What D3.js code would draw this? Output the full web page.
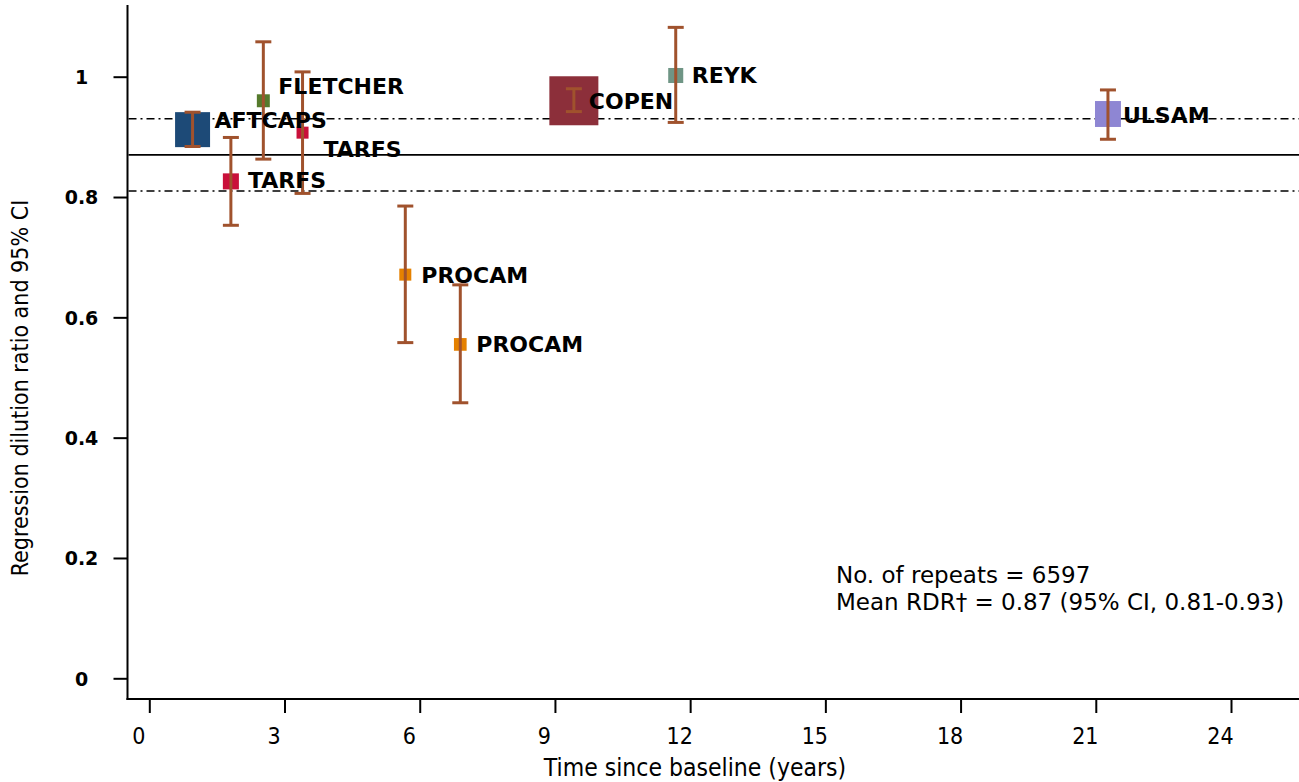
<!DOCTYPE html>
<html>
<head>
<meta charset="utf-8">
<script src="https://cdn.jsdelivr.net/npm/d3@7"></script>
<style>
  html, body { margin: 0; padding: 0; background: #fff; }
  svg { display: block; }
</style>
</head>
<body>
<svg id="chart" width="1299" height="782"></svg>
<script>
// Cohort studies: time since baseline, regression dilution ratio and 95% CI
const studies   = ["AFTCAPS", "FLETCHER", "TARFS", "TARFS", "PROCAM", "PROCAM", "COPEN", "REYK", "ULSAM"];
const years     = [0.96, 2.53, 3.40, 1.81, 5.68, 6.90, 9.42, 11.68, 21.27];
const rdr       = [0.912, 0.960, 0.907, 0.826, 0.671, 0.555, 0.960, 1.002, 0.938];
const ciLow     = [0.884, 0.863, 0.806, 0.753, 0.558, 0.458, 0.942, 0.924, 0.896];
const ciHigh    = [0.941, 1.058, 1.008, 0.899, 0.785, 0.654, 0.980, 1.082, 0.978];
const weights   = [51, 7, 6, 10.7, 6, 6.7, 100, 9.4, 28];   // relative study weight (square area)
const colors    = ["#1d4a77", "#557a2c", "#c9103a", "#c9103a", "#e58100", "#e58100", "#8c2f3a", "#6f9585", "#8e86d3"];
// label nudges in pixels (dx from marker centre, dy from marker centre)
const labelNudge = [[22, -10], [15, -15], [21, 16], [17, -1], [16, 0], [16, 0], [15, 0], [16, 0], [15, 1]];

const xTicks = [0, 3, 6, 9, 12, 15, 18, 21, 24];
const yTicks = [0, 0.2, 0.4, 0.6, 0.8, 1];
const yTickLabels = ["0", "0.2", "0.4", "0.6", "0.8", "1"];

const meanRDR = 0.87, meanLow = 0.81, meanHigh = 0.93;
const noteLines = ["No. of repeats = 6597", "Mean RDR\u2020 = 0.87 (95% CI, 0.81-0.93)"];

const svg = d3.select("#chart");
const x = d3.scaleLinear().domain([0, 24]).range([149.3, 1231]);
const y = d3.scaleLinear().domain([0, 1]).range([678.3, 76.7]);
const side = d3.scaleSqrt().domain([0, 100]).range([0, 49]);

const axisX0 = 127.5, axisY0 = 699, plotRight = 1299, plotTop = 5;

// axis lines
svg.append("line").attr("x1", axisX0).attr("x2", axisX0).attr("y1", plotTop).attr("y2", axisY0 + 1)
  .attr("stroke", "#000").attr("stroke-width", 2);
svg.append("line").attr("x1", axisX0 - 1).attr("x2", plotRight).attr("y1", axisY0).attr("y2", axisY0)
  .attr("stroke", "#000").attr("stroke-width", 2);

// y axis ticks and labels
const yAxis = d3.axisLeft(y).tickValues(yTicks).tickSize(14).tickSizeOuter(0)
  .tickFormat((d, i) => yTickLabels[i]);
const gy = svg.append("g").attr("transform", `translate(${axisX0},0)`).call(yAxis);
gy.select(".domain").remove();
gy.selectAll(".tick line").attr("stroke", "#000").attr("stroke-width", 2);
gy.selectAll(".tick text")
  .attr("x", -46).attr("text-anchor", "middle").attr("dy", "0.36em")
  .style("font-family", "'DejaVu Sans', Verdana, sans-serif")
  .style("font-weight", "bold").style("font-size", "19px").attr("fill", "#000");

// x axis ticks and labels
const xAxis = d3.axisBottom(x).tickValues(xTicks).tickSize(14).tickSizeOuter(0);
const gx = svg.append("g").attr("transform", `translate(0,${axisY0})`).call(xAxis);
gx.select(".domain").remove();
gx.selectAll(".tick line").attr("stroke", "#000").attr("stroke-width", 2);
gx.selectAll(".tick text")
  .attr("y", 0).attr("dy", 45).attr("dx", -11).attr("text-anchor", "middle")
  .style("font-family", "'DejaVu Sans Condensed', 'DejaVu Sans', sans-serif")
  .style("font-stretch", "condensed")
  .style("font-size", "23px").attr("fill", "#000");

// axis titles
svg.append("text").attr("x", 695).attr("y", 776).attr("text-anchor", "middle")
  .style("font-family", "'DejaVu Sans Condensed', 'DejaVu Sans', sans-serif")
  .style("font-stretch", "condensed").style("font-size", "24.5px")
  .text("Time since baseline (years)");
svg.append("text").attr("transform", "translate(28,388) rotate(-90)").attr("text-anchor", "middle")
  .style("font-family", "'Liberation Sans Narrow', 'DejaVu Sans Condensed', sans-serif")
  .style("font-stretch", "condensed").style("font-size", "23px")
  .text("Regression dilution ratio and 95% CI");

// mean RDR and its confidence limits
svg.append("line").attr("x1", axisX0 + 1).attr("x2", plotRight).attr("y1", y(meanRDR)).attr("y2", y(meanRDR))
  .attr("stroke", "#000").attr("stroke-width", 1.6);
[meanLow, meanHigh].forEach(v => {
  svg.append("line").attr("x1", axisX0 + 1).attr("x2", plotRight).attr("y1", y(v)).attr("y2", y(v))
    .attr("stroke", "#000").attr("stroke-width", 1.6).attr("stroke-dasharray", "8,4,2,4");
});

const idx = d3.range(studies.length);

// study squares sized by weight
svg.append("g").selectAll("rect").data(idx).join("rect")
  .attr("x", i => x(years[i]) - side(weights[i]) / 2)
  .attr("y", i => y(rdr[i]) - side(weights[i]) / 2)
  .attr("width", i => side(weights[i]))
  .attr("height", i => side(weights[i]))
  .attr("fill", i => colors[i]);

// confidence intervals
const bars = svg.append("g").attr("stroke", "#a0522d").attr("stroke-width", 3);
idx.forEach(i => {
  const cx = x(years[i]);
  bars.append("line").attr("x1", cx).attr("x2", cx).attr("y1", y(ciLow[i])).attr("y2", y(ciHigh[i]));
  bars.append("line").attr("x1", cx - 8).attr("x2", cx + 8).attr("y1", y(ciLow[i])).attr("y2", y(ciLow[i]));
  bars.append("line").attr("x1", cx - 8).attr("x2", cx + 8).attr("y1", y(ciHigh[i])).attr("y2", y(ciHigh[i]));
});

// study labels
svg.append("g").selectAll("text").data(idx).join("text")
  .attr("x", i => x(years[i]) + labelNudge[i][0])
  .attr("y", i => y(rdr[i]) + labelNudge[i][1])
  .attr("dy", "0.36em")
  .style("font-family", "'DejaVu Sans', Verdana, sans-serif")
  .style("font-weight", "bold").style("font-size", "22px")
  .attr("fill", "#000")
  .text(i => studies[i]);

// summary note
svg.append("g").selectAll("text").data(noteLines).join("text")
  .attr("x", 836).attr("y", (d, i) => 583 + i * 27)
  .style("font-family", "'DejaVu Sans', Verdana, sans-serif")
  .style("font-size", "23px").attr("fill", "#000")
  .text(d => d);
</script>
</body>
</html>
